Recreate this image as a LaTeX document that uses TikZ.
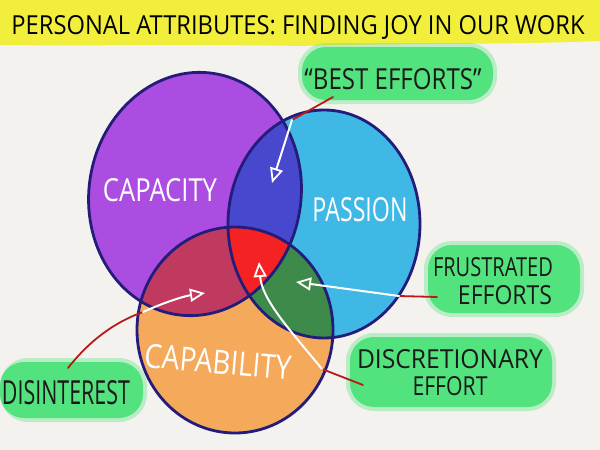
\documentclass[tikz,border=0pt]{standalone}
\usepackage{fontspec}
\setmainfont{Open Sans}
\usetikzlibrary{arrows.meta}
\definecolor{bg}{HTML}{F3F2EE}
\definecolor{banner}{HTML}{F2EE3C}
\definecolor{cpurple}{HTML}{AC4DE2}
\definecolor{cblue}{HTML}{3FB8E6}
\definecolor{corange}{HTML}{F5A95B}
\definecolor{cpb}{HTML}{4848CE}
\definecolor{cpo}{HTML}{C03A5F}
\definecolor{cbo}{HTML}{3E8A4A}
\definecolor{cred}{HTML}{F42222}
\definecolor{outline}{HTML}{231C7A}
\definecolor{blobgreen}{HTML}{52E37E}
\definecolor{pointer}{HTML}{B81A1A}
\definecolor{ink}{HTML}{1A1A1A}
\tikzset{
  pE/.style={rotate around={-9:(195,194)}},
  rim/.style={draw=outline,line width=2.8pt},
  blob/.style={fill=blobgreen,rounded corners=24pt},
  blobhalo/.style={fill=blobgreen,fill opacity=0.35,rounded corners=28pt},
  pointerline/.style={draw=pointer,line width=1.8pt,line cap=round},
  whitearrow/.style={draw=white,line width=2pt,line cap=round,
    -{Triangle[open,length=15pt,width=13pt,line width=1.8pt]}},
  bloblabel/.style={inner sep=0pt,text=ink},
  circlelabel/.style={inner sep=0pt,text=white},
}
\begin{document}
\begin{tikzpicture}[x=1pt,y=-1pt]
\useasboundingbox (0,0) rectangle (600,450);
\fill[bg] (0,0) rectangle (600,450);
% banner
\fill[banner] (0,0) -- (600,0) -- (600,41) .. controls (500,45) and (400,43) .. (300,46)
  .. controls (200,44) and (100,46) .. (0,45) -- cycle;
\node[inner sep=0pt] (title) at (298,27) {\resizebox{573pt}{19pt}{PERSONAL ATTRIBUTES: FINDING JOY IN OUR WORK}};
% green blobs
\fill[blobhalo] (298,43) rectangle (497,104);
\fill[blobhalo] (424,241) rectangle (584,317);
\fill[blobhalo] (0,358) rectangle (147,422);
\fill[blobhalo] (346,333) rectangle (556,411);
\fill[blob] (302,47) rectangle (493,100);
\fill[blob] (428,245) rectangle (580,313);
\fill[blob] (0,362) rectangle (143,418);
\fill[blob] (350,337) rectangle (552,407);
% circles
\fill[cpurple,pE] (195,194) ellipse [x radius=106,y radius=122];
\fill[cblue] (324,224) ellipse [x radius=96,y radius=114];
\fill[corange] (235,330) ellipse [x radius=98,y radius=103];
\begin{scope}
  \clip[pE] (195,194) ellipse [x radius=106,y radius=122];
  \fill[cpb] (324,224) ellipse [x radius=96,y radius=114];
  \fill[cpo] (235,330) ellipse [x radius=98,y radius=103];
\end{scope}
\begin{scope}
  \clip (324,224) ellipse [x radius=96,y radius=114];
  \fill[cbo] (235,330) ellipse [x radius=98,y radius=103];
\end{scope}
\begin{scope}
  \clip[pE] (195,194) ellipse [x radius=106,y radius=122];
  \clip (324,224) ellipse [x radius=96,y radius=114];
  \fill[cred] (235,330) ellipse [x radius=98,y radius=103];
\end{scope}
\draw[rim,pE] (195,194) ellipse [x radius=106,y radius=122];
\draw[rim] (324,224) ellipse [x radius=96,y radius=114];
\draw[rim] (235,330) ellipse [x radius=98,y radius=103];
% circle labels
\node[circlelabel] (capacity) at (160,190) {\resizebox{114pt}{23pt}{CAPACITY}};
\node[circlelabel] (passion) at (360,210) {\resizebox{95pt}{24pt}{PASSION}};
\node[circlelabel,rotate=-5] (capability) at (218,362) {\resizebox{147pt}{24pt}{CAPABILITY}};
% blob labels
\node[bloblabel] (best) at (393,79) {\resizebox{177pt}{21pt}{“BEST EFFORTS”}};
\node[bloblabel] (frus1) at (493,267) {\resizebox{120pt}{19pt}{FRUSTRATED}};
\node[bloblabel] (frus2) at (505,295) {\resizebox{94pt}{19pt}{EFFORTS}};
\node[bloblabel] (dis) at (66,393) {\resizebox{128pt}{24pt}{DISINTEREST}};
\node[bloblabel] (disc1) at (450,359) {\resizebox{186pt}{19pt}{DISCRETIONARY}};
\node[bloblabel] (disc2) at (450,386) {\resizebox{75pt}{19pt}{EFFORT}};
% pointer coordinates
\coordinate (beA) at (333,97);
\coordinate (beB) at (292,120);
\coordinate (beT) at (272,183);
\coordinate (feA) at (437,297);
\coordinate (feB) at (399,296);
\coordinate (feT) at (296,282);
\coordinate (diA) at (68,368);
\coordinate (diB) at (143,312);
\coordinate (diT) at (205,293);
\coordinate (deA) at (363,385);
\coordinate (deB) at (322,369);
\coordinate (deT) at (259,262);
% red pointer lines
\draw[pointerline] (beA) -- (beB);
\draw[pointerline] (feA) -- (feB);
\draw[pointerline] (diA) .. controls (90,340) and (115,322) .. (diB);
\draw[pointerline] (deA) -- (deB);
% white arrows
\draw[whitearrow] (beB) -- (beT);
\draw[whitearrow] (feB) -- (feT);
\draw[whitearrow] (diB) .. controls (165,302) and (185,296) .. (diT);
\draw[whitearrow] (deB) .. controls (290,330) and (262,300) .. (deT);
\end{tikzpicture}
\end{document}
